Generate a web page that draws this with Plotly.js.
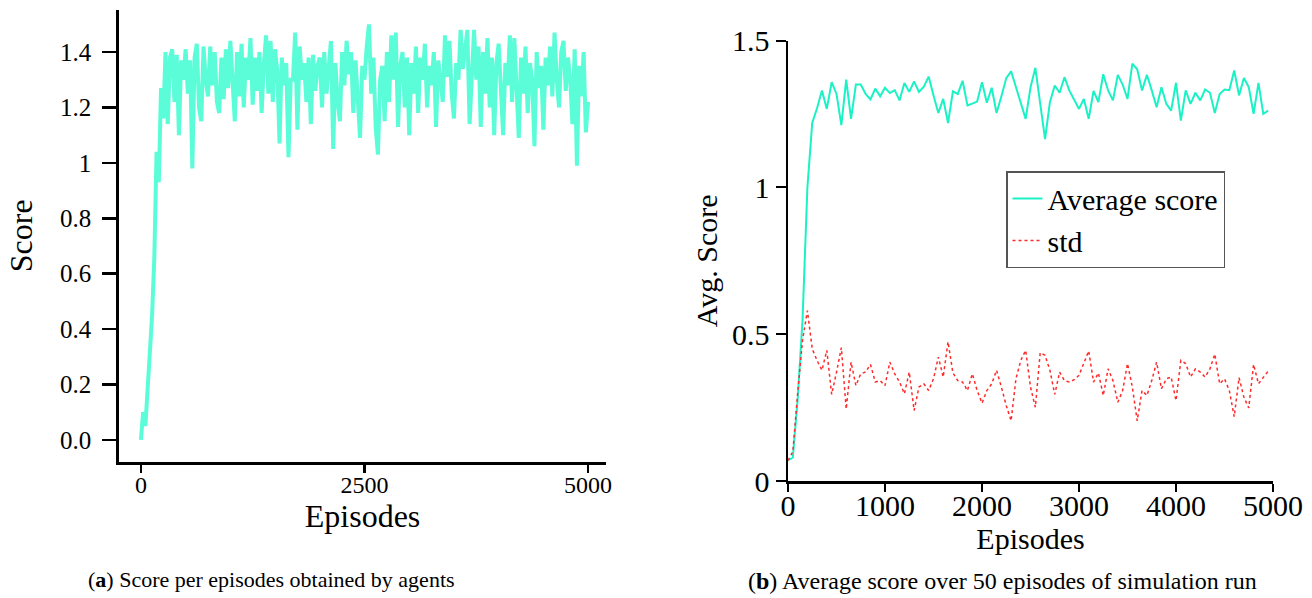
<!DOCTYPE html>
<html>
<head>
<meta charset="utf-8">
<script src="https://cdn.plot.ly/plotly-3.0.1.min.js"></script>
<style>
  html, body { margin: 0; padding: 0; background: #ffffff; }
  #chart { width: 1312px; height: 598px; }
</style>
</head>
<body>
<div id="chart"></div>
<script>
// ---------- Data: (a) score per episode (sampled every 25 episodes) ----------
const scoreStep = 25;
const scorePerEpisode = [
  0.00, 0.10, 0.05, 0.19, 0.28, 0.45, 0.66, 1.04, 0.93, 1.27,
  1.16, 1.40, 1.14, 1.38, 1.41, 1.22, 1.39, 1.10, 1.37, 1.30,
  1.41, 1.25, 1.37, 0.98, 1.38, 1.43, 1.20, 1.15, 1.42, 1.30,
  1.24, 1.42, 1.28, 1.40, 1.22, 1.18, 1.38, 1.23, 1.41, 1.27,
  1.44, 1.30, 1.15, 1.40, 1.24, 1.43, 1.20, 1.38, 1.30, 1.45,
  1.21, 1.38, 1.26, 1.40, 1.18, 1.36, 1.46, 1.25, 1.44, 1.22,
  1.41, 1.33, 1.07, 1.38, 1.28, 1.36, 1.02, 1.30, 1.30, 1.47,
  1.12, 1.42, 1.30, 1.36, 1.22, 1.38, 1.14, 1.39, 1.26, 1.35,
  1.38, 1.20, 1.40, 1.25, 1.36, 1.44, 1.05, 1.36, 1.22, 1.15,
  1.40, 1.28, 1.44, 1.32, 1.40, 1.18, 1.37, 1.25, 1.09, 1.35,
  1.30, 1.42, 1.50, 1.25, 1.38, 1.13, 1.03, 1.30, 1.35, 1.15,
  1.40, 1.22, 1.46, 1.30, 1.47, 1.13, 1.35, 1.40, 1.20, 1.38,
  1.10, 1.36, 1.25, 1.42, 1.18, 1.38, 1.30, 1.43, 1.20, 1.35,
  1.28, 1.40, 1.13, 1.37, 1.28, 1.22, 1.46, 1.31, 1.44, 1.25,
  1.16, 1.36, 1.30, 1.48, 1.34, 1.40, 1.48, 1.14, 1.35, 1.48,
  1.30, 1.42, 1.13, 1.40, 1.25, 1.45, 1.20, 1.38, 1.10, 1.36,
  1.43, 1.26, 1.10, 1.36, 1.28, 1.46, 1.22, 1.45, 1.30, 1.09,
  1.38, 1.25, 1.42, 1.18, 1.36, 1.30, 1.06, 1.40, 1.27, 1.35,
  1.12, 1.38, 1.28, 1.42, 1.24, 1.47, 1.30, 1.20, 1.40, 1.44,
  1.26, 1.38, 1.30, 1.14, 1.41, 0.99, 1.35, 1.24, 1.40, 1.11,
  1.22
];
const scoreEpisodes = scorePerEpisode.map((_, i) => i * scoreStep);

// ---------- Data: (b) average score over 50 episodes and std ----------
const avgStep = 50;
const averageScore = [
  0.07, 0.08, 0.28, 0.55, 1.00, 1.22, 1.27, 1.33, 1.267, 1.358,
  1.318, 1.212, 1.367, 1.233, 1.35, 1.35, 1.318, 1.299, 1.336, 1.31,
  1.339, 1.321, 1.331, 1.296, 1.355, 1.325, 1.361, 1.325, 1.343, 1.377,
  1.313, 1.253, 1.301, 1.219, 1.327, 1.318, 1.363, 1.279, 1.285, 1.292,
  1.358, 1.288, 1.339, 1.253, 1.31, 1.372, 1.395, 1.34, 1.285, 1.233,
  1.34, 1.407, 1.285, 1.164, 1.29, 1.347, 1.322, 1.375, 1.33, 1.299,
  1.267, 1.301, 1.233, 1.328, 1.29, 1.385, 1.33, 1.296, 1.383, 1.35,
  1.301, 1.421, 1.402, 1.33, 1.383, 1.33, 1.273, 1.341, 1.284, 1.261,
  1.356, 1.227, 1.33, 1.284, 1.322, 1.296, 1.333, 1.322, 1.253, 1.318,
  1.333, 1.331, 1.398, 1.313, 1.372, 1.341, 1.25, 1.356, 1.25, 1.261
];
const stdScore = [
  0.07, 0.10, 0.30, 0.48, 0.58, 0.45, 0.41, 0.377, 0.445, 0.295,
  0.37, 0.454, 0.245, 0.405, 0.325, 0.365, 0.371, 0.397, 0.337, 0.342,
  0.325, 0.405, 0.365, 0.337, 0.297, 0.371, 0.24, 0.32, 0.331, 0.308,
  0.348, 0.422, 0.354, 0.474, 0.368, 0.342, 0.337, 0.308, 0.365, 0.308,
  0.265, 0.308, 0.331, 0.377, 0.32, 0.257, 0.205, 0.348, 0.411, 0.445,
  0.32, 0.251, 0.437, 0.428, 0.377, 0.295, 0.371, 0.342, 0.337, 0.345,
  0.36, 0.40, 0.443, 0.337, 0.368, 0.291, 0.382, 0.342, 0.268, 0.308,
  0.40, 0.32, 0.205, 0.308, 0.291, 0.342, 0.405, 0.314, 0.348, 0.354,
  0.274, 0.411, 0.40, 0.354, 0.382, 0.371, 0.354, 0.382, 0.432, 0.331,
  0.348, 0.308, 0.219, 0.352, 0.285, 0.249, 0.397, 0.331, 0.354, 0.374
];
const avgEpisodes = averageScore.map((_, i) => i * avgStep);

// ---------- Tick labels ----------
const leftYTicks = [0, 0.2, 0.4, 0.6, 0.8, 1, 1.2, 1.4];
const leftYTickText = ["0.0", "0.2", "0.4", "0.6", "0.8", "1", "1.2", "1.4"];
const leftXTicks = [0, 2500, 5000];
const rightYTicks = [0, 0.5, 1, 1.5];
const rightYTickText = ["0", "0.5", "1", "1.5"];
const rightXTicks = [0, 1000, 2000, 3000, 4000, 5000];

// ---------- Layout helpers ----------
const W = 1312, H = 598;
const px = v => v / W;
const py = v => 1 - v / H;
const FONT = "Liberation Serif, Times New Roman, serif";

const traces = [
  {
    x: scoreEpisodes, y: scorePerEpisode, type: 'scatter', mode: 'lines',
    line: { color: '#5afdd8', width: 4 }, xaxis: 'x', yaxis: 'y',
    showlegend: false, hoverinfo: 'skip'
  },
  {
    x: avgEpisodes, y: averageScore, type: 'scatter', mode: 'lines',
    name: 'Average score',
    line: { color: '#1af2c6', width: 2 }, xaxis: 'x2', yaxis: 'y2'
  },
  {
    x: avgEpisodes, y: stdScore, type: 'scatter', mode: 'lines',
    name: 'std',
    line: { color: '#ff2a2a', width: 1.5, dash: 'dot' }, xaxis: 'x2', yaxis: 'y2'
  }
];

const axisCommon = {
  showgrid: false, zeroline: false, showline: true, linecolor: '#000',
  ticks: 'outside', tickcolor: '#000', color: '#000'
};

const layout = {
  width: W, height: H,
  margin: { l: 0, r: 0, t: 0, b: 0 },
  paper_bgcolor: '#fff', plot_bgcolor: '#fff',
  font: { family: FONT, color: '#000' },
  hovermode: false,
  xaxis: Object.assign({}, axisCommon, {
    domain: [px(119.3), px(605.8)], range: [-241.6, 5198],
    anchor: 'y', linewidth: 3, tickwidth: 2.5, ticklen: 8,
    tickvals: leftXTicks, tickfont: { size: 24, family: FONT },
    ticklabelstandoff: -8,
    title: { text: 'Episodes', font: { size: 32, family: FONT }, standoff: 0 }
  }),
  yaxis: Object.assign({}, axisCommon, {
    domain: [py(461.5), py(10.2)], range: [-0.078, 1.551],
    anchor: 'x', linewidth: 3, tickwidth: 2.5, ticklen: 14,
    tickvals: leftYTicks, ticktext: leftYTickText, ticklabelstandoff: 6,
    tickfont: { size: 25, family: FONT },
    title: { text: 'Score', font: { size: 32, family: FONT }, standoff: 18 }
  }),
  xaxis2: Object.assign({}, axisCommon, {
    domain: [px(788), px(1273)], range: [0, 5000],
    anchor: 'y2', linewidth: 2.5, tickwidth: 2, ticklen: 8,
    tickvals: rightXTicks, tickfont: { size: 30, family: FONT },
    ticklabelstandoff: -12,
    title: { text: 'Episodes', font: { size: 30, family: FONT }, standoff: 0 }
  }),
  yaxis2: Object.assign({}, axisCommon, {
    domain: [py(481), py(40.5)], range: [0, 1.5],
    anchor: 'x2', linewidth: 2.5, tickwidth: 2, ticklen: 10,
    tickvals: rightYTicks, ticktext: rightYTickText,
    tickfont: { size: 30, family: FONT },
    title: { text: 'Avg. Score', font: { size: 30, family: FONT }, standoff: 6 }
  }),
  legend: {
    x: px(1006), y: py(171), xanchor: 'left', yanchor: 'top',
    bgcolor: '#fff', bordercolor: '#555', borderwidth: 1.5,
    font: { size: 30, family: FONT, color: '#000' },
    itemwidth: 30, tracegroupgap: 0
  },
  annotations: [
    {
      xref: 'paper', yref: 'paper', x: px(271), y: py(579),
      xanchor: 'center', yanchor: 'middle', showarrow: false,
      text: '(<b>a</b>) Score per episodes obtained by agents',
      font: { size: 22, family: FONT, color: '#000' }
    },
    {
      xref: 'paper', yref: 'paper', x: px(1002), y: py(581),
      xanchor: 'center', yanchor: 'middle', showarrow: false,
      text: '(<b>b</b>) Average score over 50 episodes of simulation run',
      font: { size: 24, family: FONT, color: '#000' }
    }
  ]
};

Plotly.newPlot('chart', traces, layout, { staticPlot: true, displayModeBar: false });
</script>
</body>
</html>
